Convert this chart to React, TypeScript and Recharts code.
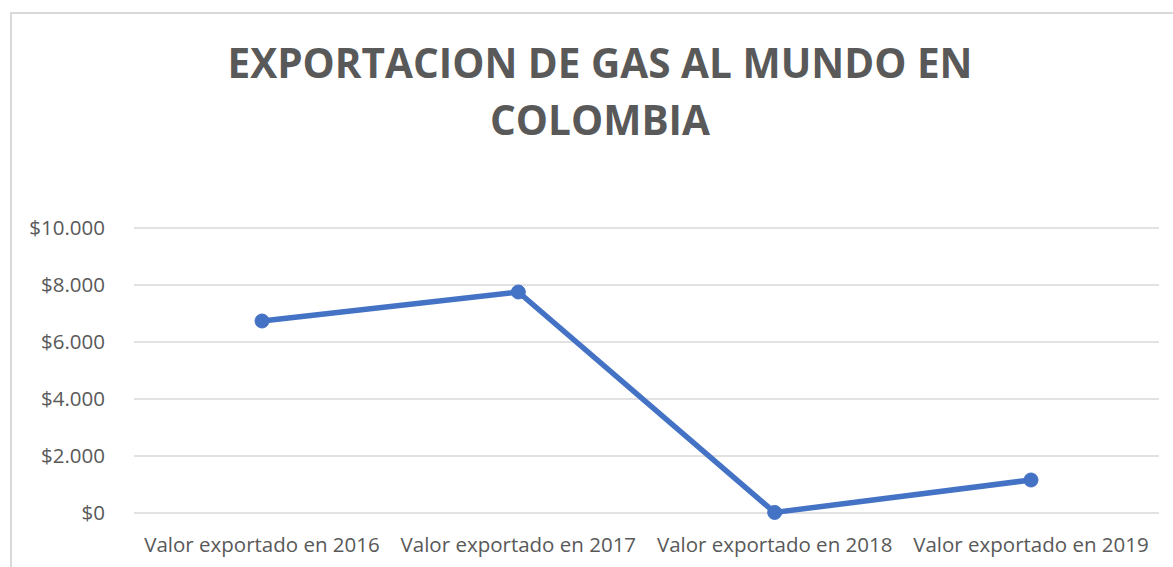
import React from "react";
import { LineChart, Line, XAxis, YAxis, CartesianGrid } from "recharts";

const categories = [
  "Valor exportado en 2016",
  "Valor exportado en 2017",
  "Valor exportado en 2018",
  "Valor exportado en 2019",
];
const values = [6737, 7754, 20, 1158];
const yTicks = [0, 2000, 4000, 6000, 8000, 10000];
const titleLines = ["EXPORTACION DE GAS AL MUNDO EN", "COLOMBIA"];

const data = categories.map((c, i) => ({ name: c, value: values[i] }));

const fmt = (n: number) =>
  "$" + String(n).replace(/\B(?=(\d{3})+(?!\d))/g, ".");

const FONT = "'Open Sans', sans-serif";
const TEXT = "#595959";

export default function App() {
  return (
    <div style={{ position: "relative", width: 1173, height: 567, overflow: "hidden", background: "#fff" }}>
      <style>{`body{margin:0;overflow:hidden;}`}</style>
      <div
        style={{
          position: "absolute",
          left: 10,
          top: 12,
          width: 1200,
          height: 600,
          border: "2px solid #d9d9d9",
          boxSizing: "border-box",
        }}
      />
      <svg
        width={1173}
        height={160}
        style={{ position: "absolute", left: 0, top: 0 }}
      >
        {titleLines.map((t, i) => (
          <text
            key={i}
            x={600}
            y={78 + i * 57}
            textAnchor="middle"
            fill={TEXT}
            fontFamily={FONT}
            fontWeight={700}
            fontSize={40.5}
          >
            {t}
          </text>
        ))}
      </svg>
      <div style={{ position: "absolute", left: 0, top: 0 }}>
        <LineChart
          width={1173}
          height={567}
          data={data}
          margin={{ top: 228, right: 14, bottom: 14, left: 34 }}
        >
          <CartesianGrid vertical={false} stroke="#d9d9d9" strokeWidth={1.5} />
          <XAxis
            dataKey="name"
            axisLine={false}
            tickLine={false}
            tickSize={0}
            tickMargin={24}
            height={40}
            interval={0}
            padding={{ left: 128, right: 128 }}
            tick={{ fill: TEXT, fontFamily: FONT, fontSize: 20.5 }}
          />
          <YAxis
            domain={[0, 10000]}
            ticks={yTicks}
            tickFormatter={fmt}
            axisLine={false}
            tickLine={false}
            tickSize={0}
            tickMargin={29}
            width={100}
            tick={{ fill: TEXT, fontFamily: FONT, fontSize: 20.5 }}
          />
          <Line
            dataKey="value"
            stroke="#4472C4"
            strokeWidth={5.5}
            dot={{ r: 7, fill: "#4472C4", stroke: "#4472C4", strokeWidth: 1 }}
            isAnimationActive={false}
          />
        </LineChart>
      </div>
    </div>
  );
}
